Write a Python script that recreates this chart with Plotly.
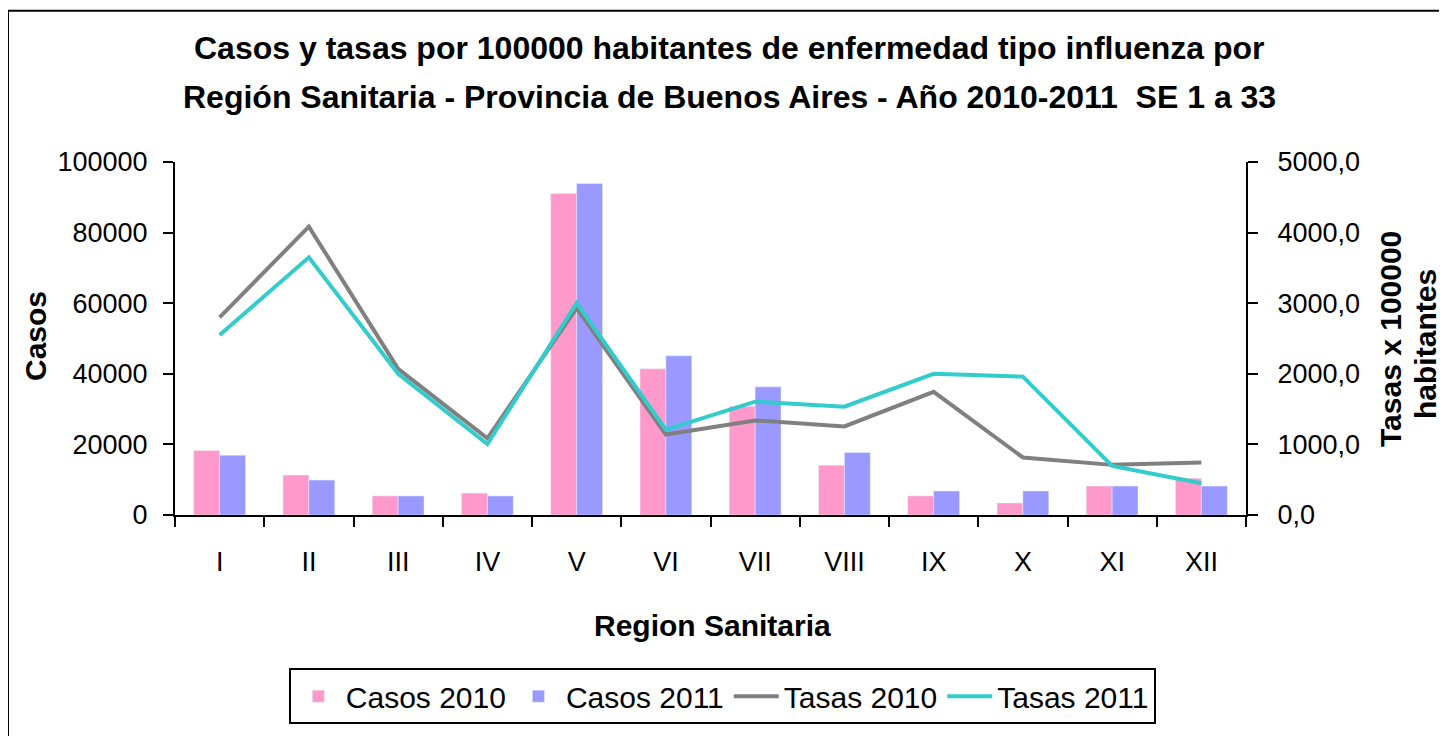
import plotly.graph_objects as go

regiones = ["I", "II", "III", "IV", "V", "VI", "VII", "VIII", "IX", "X", "XI", "XII"]
casos_2010 = [18300, 11300, 5400, 6200, 91100, 41400, 30800, 14100, 5400, 3400, 8200, 10400]
casos_2011 = [16900, 9900, 5400, 5400, 93900, 45100, 36300, 17700, 6800, 6800, 8200, 8200]
tasas_2010 = [2800, 4085, 2070, 1085, 2930, 1140, 1340, 1255, 1745, 815, 710, 745]
tasas_2011 = [2550, 3650, 2000, 1005, 3000, 1210, 1605, 1535, 2000, 1960, 695, 450]

FONT = "Liberation Sans, Arial, sans-serif"

fig = go.Figure()
fig.add_trace(go.Bar(x=regiones, y=casos_2010, name="Casos 2010", marker_color="#FF99CC"))
fig.add_trace(go.Bar(x=regiones, y=casos_2011, name="Casos 2011", marker_color="#9999FF"))
fig.add_trace(go.Scatter(x=regiones, y=tasas_2010, name="Tasas 2010", mode="lines",
                         line=dict(color="#808080", width=4), yaxis="y2"))
fig.add_trace(go.Scatter(x=regiones, y=tasas_2011, name="Tasas 2011", mode="lines",
                         line=dict(color="#33CCCC", width=4), yaxis="y2"))

axis_common = dict(showline=True, linecolor="black", linewidth=2, ticks="outside",
                   tickcolor="black", tickwidth=2, ticklen=10, showgrid=False, zeroline=False,
                   tickfont=dict(family=FONT, size=27, color="black"))

# la pagina tiene 8px de margen en el body
fig.update_layout(
    width=1439, height=728,
    margin=dict(l=167, r=201, t=154, b=219),
    paper_bgcolor="white", plot_bgcolor="white",
    separators=",.",
    barmode="group", bargap=0.42, bargroupgap=0,
    font=dict(family=FONT, color="black"),
    xaxis=dict(**axis_common, tickson="boundaries", ticklabelstandoff=22),
    yaxis=dict(**axis_common, range=[0, 100000], dtick=20000, tickformat="d", ticklabelstandoff=10),
    yaxis2=dict(**axis_common, range=[0, 5000], dtick=1000, tickformat=".1f",
                overlaying="y", side="right", ticklabelstandoff=14),
    legend=dict(orientation="h", x=0.511, xanchor="center", y=-0.434, yanchor="top",
                bordercolor="black", borderwidth=2, font=dict(family=FONT, size=30),
                traceorder="normal", itemwidth=45),
    showlegend=True,
)

titulo = [
    ("<b>Casos y tasas por 100000 habitantes de enfermedad tipo influenza por</b>", 47),
    ("<b>Región Sanitaria - Provincia de Buenos Aires - Año 2010-2011  SE 1 a 33</b>", 97),
]
for texto, yy in titulo:
    fig.add_annotation(text=texto, xref="paper", yref="paper", x=0.518, y=(517 - yy) / 355,
                       showarrow=False, font=dict(family=FONT, size=32, color="black"),
                       xanchor="center", yanchor="middle")

# titulos de ejes
fig.add_annotation(text="<b>Region Sanitaria</b>", xref="paper", yref="paper",
                   x=(712 - 175) / 1071, y=(517 - 628) / 355, showarrow=False,
                   font=dict(family=FONT, size=30), xanchor="center", yanchor="middle")
fig.add_annotation(text="<b>Casos</b>", xref="paper", yref="paper", textangle=-90,
                   x=(35 - 175) / 1071, y=(517 - 337) / 355, showarrow=False,
                   font=dict(family=FONT, size=30), xanchor="center", yanchor="middle")
fig.add_annotation(text="<b>Tasas x 100000</b>", xref="paper", yref="paper", textangle=-90,
                   x=(1391 - 175) / 1071, y=(517 - 340) / 355, showarrow=False,
                   font=dict(family=FONT, size=30), xanchor="center", yanchor="middle")
fig.add_annotation(text="<b>habitantes</b>", xref="paper", yref="paper", textangle=-90,
                   x=(1426 - 175) / 1071, y=(517 - 345) / 355, showarrow=False,
                   font=dict(family=FONT, size=30), xanchor="center", yanchor="middle")

# marco del grafico
fig.add_shape(type="rect", xref="paper", yref="paper",
              x0=(8 - 175) / 1071, x1=(1445 - 175) / 1071,
              y0=(517 - 760) / 355, y1=(517 - 10) / 355,
              line=dict(color="black", width=2))

fig.write_html("out.html")
